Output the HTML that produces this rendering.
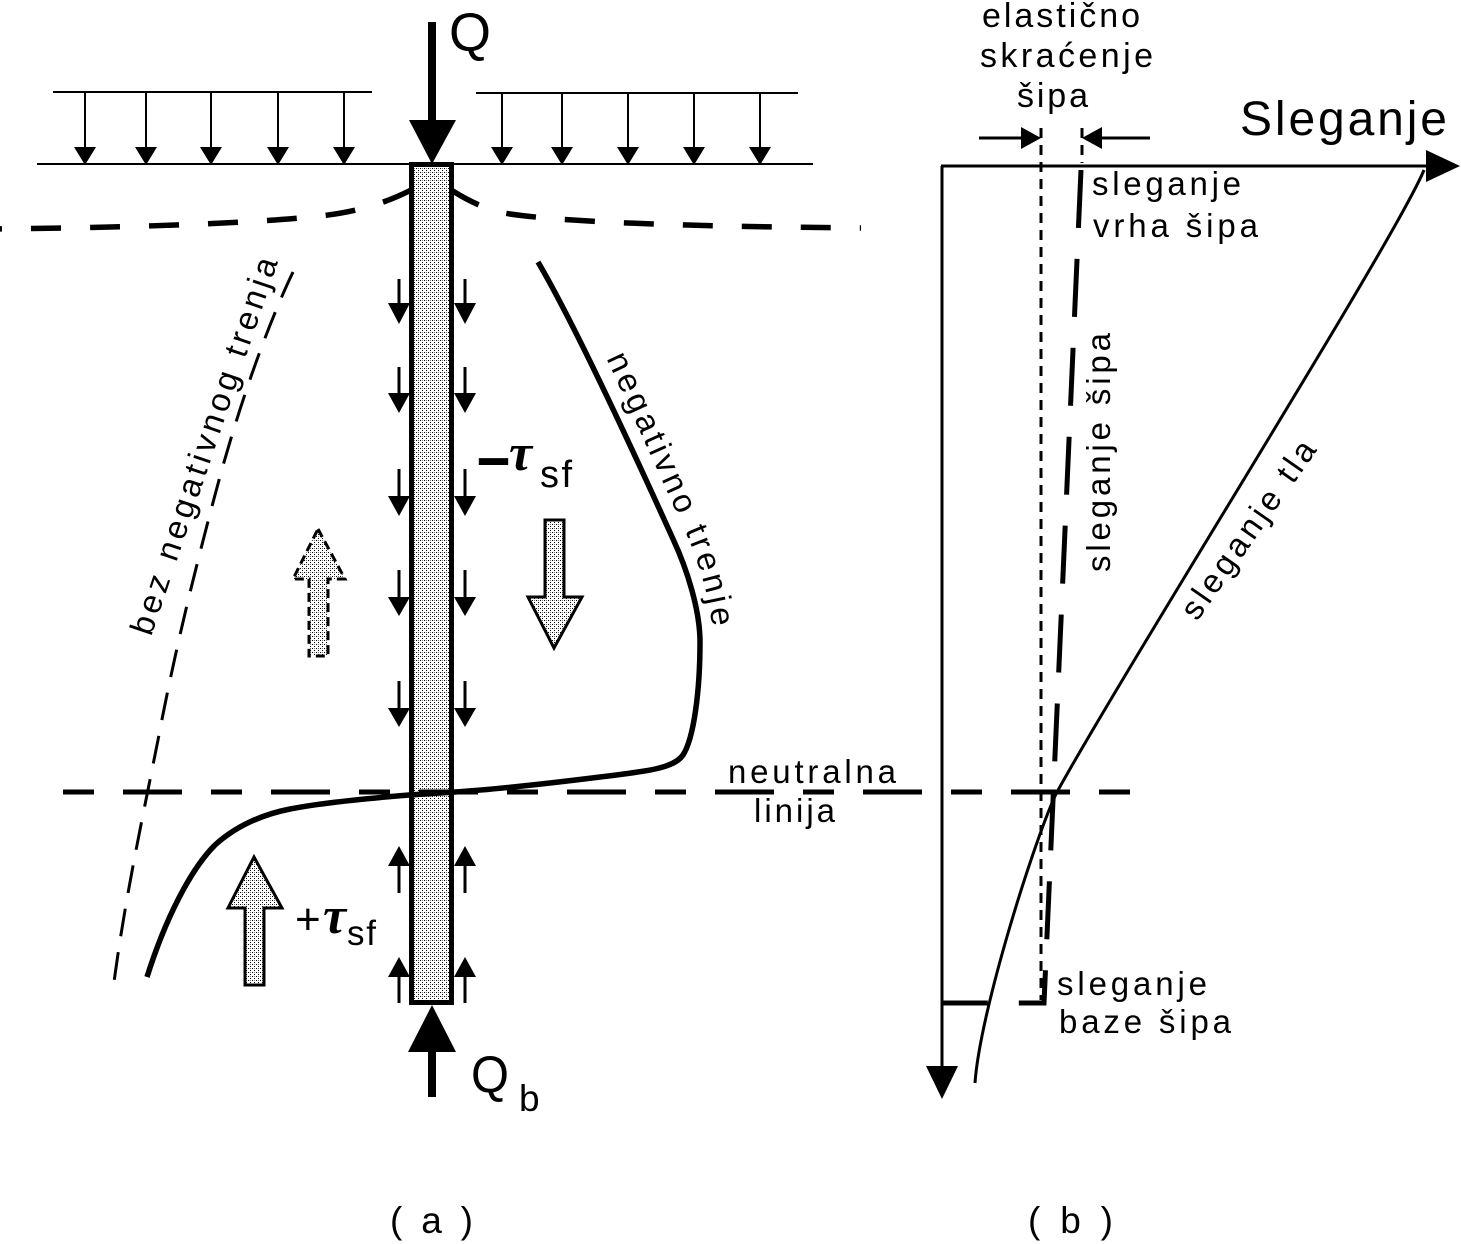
<!DOCTYPE html>
<html>
<head>
<meta charset="utf-8">
<style>
html,body{margin:0;padding:0;background:#fff;}
svg{display:block;}
</style>
</head>
<body>
<svg width="1461" height="1244" viewBox="0 0 1461 1244" xmlns="http://www.w3.org/2000/svg" font-family="'Liberation Sans', Arial, sans-serif">
<defs>
  <pattern id="st" width="4" height="4" patternUnits="userSpaceOnUse">
    <rect width="4" height="4" fill="#fff"/>
    <rect x="0" y="0" width="1" height="1" fill="#000"/>
    <rect x="2" y="2" width="1" height="1" fill="#000"/>
    <rect x="2" y="0" width="1" height="1" fill="#777"/>
  </pattern>
</defs>
<rect width="1461" height="1244" fill="#fff"/>

<!-- ===== PART (a) ===== -->
<g stroke="#000" stroke-width="2" fill="none">
  <line x1="53" y1="92" x2="372" y2="92"/>
  <line x1="37" y1="164" x2="411" y2="164"/>
  <line x1="476" y1="93" x2="798" y2="93"/>
  <line x1="452" y1="164" x2="813" y2="164"/>
  <path d="M85,92V150 M146,92V150 M211,92V150 M278,92V150 M344,92V150 M502,93V150 M562,93V150 M628,93V150 M694,93V150 M760,93V150"/>
</g>
<g fill="#000">
  <polygon points="74,147 96,147 85,165"/>
  <polygon points="135,147 157,147 146,165"/>
  <polygon points="200,147 222,147 211,165"/>
  <polygon points="267,147 289,147 278,165"/>
  <polygon points="333,147 355,147 344,165"/>
  <polygon points="491,147 513,147 502,165"/>
  <polygon points="551,147 573,147 562,165"/>
  <polygon points="617,147 639,147 628,165"/>
  <polygon points="683,147 705,147 694,165"/>
  <polygon points="749,147 771,147 760,165"/>
</g>

<!-- Q arrow -->
<line x1="432" y1="22" x2="432" y2="124" stroke="#000" stroke-width="8"/>
<polygon points="409,120 456,120 432,164" fill="#000"/>
<text x="449" y="51" font-size="54">Q</text>

<!-- surface settlement dashed curve -->
<path d="M-28,229 C100,228.5 250,224 320,216 C355,212 385,204 415,188" fill="none" stroke="#000" stroke-width="5.5" stroke-dasharray="30 29"/>
<path d="M448,188 C465,199 485,210 510,214 C560,221 650,226 861,228" fill="none" stroke="#000" stroke-width="5.5" stroke-dasharray="30 29" stroke-dashoffset="-5"/>

<!-- "bez negativnog trenja" thin dashed line -->
<path d="M293,272 C270,320 240,400 215,495 C195,570 175,650 158,740 C140,830 125,900 114,982" fill="none" stroke="#000" stroke-width="3" stroke-dasharray="28 16"/>

<!-- pile -->
<rect x="411.5" y="164.5" width="40" height="838" fill="url(#st)" stroke="#000" stroke-width="5"/>

<!-- neutral line -->
<line x1="63" y1="792" x2="1131" y2="792" stroke="#000" stroke-width="5" stroke-dasharray="31 29 59 29"/>

<!-- friction curve -->
<path d="M538,262 C575,325 635,455 673,539 C687,569 700,610 700,642 C700,690 694,738 683,755 C674,768 650,771 600,777 C560,782 500,789 455,792 L409,795 C360,799 320,803 290,809 C260,815 235,827 215,845 C190,870 165,920 147,977" fill="none" stroke="#000" stroke-width="5.5"/>

<!-- small shear arrows -->
<path d="M399,279V305 M465,279V305 M399,367V395 M465,367V395 M399,469V498 M465,469V498 M399,570V599 M465,570V599 M399,681V710 M465,681V710 M399,864V893 M465,864V893 M399,975V1003 M465,975V1003" stroke="#000" stroke-width="3" fill="none"/>
<g fill="#000">
  <polygon points="388,303 410,303 399,324"/><polygon points="454,303 476,303 465,324"/>
  <polygon points="388,393 410,393 399,413"/><polygon points="454,393 476,393 465,413"/>
  <polygon points="388,496 410,496 399,516"/><polygon points="454,496 476,496 465,516"/>
  <polygon points="388,597 410,597 399,616"/><polygon points="454,597 476,597 465,616"/>
  <polygon points="388,708 410,708 399,727"/><polygon points="454,708 476,708 465,727"/>
  <polygon points="399,846 388,866 410,866"/><polygon points="465,846 454,866 476,866"/>
  <polygon points="399,957 388,977 410,977"/><polygon points="465,957 454,977 476,977"/>
</g>

<!-- hollow arrows -->
<polygon points="545,520 564,520 564,597 582,597 554,648 528,597 545,597" fill="url(#st)" stroke="#000" stroke-width="3"/>
<polygon points="254,857 282,908 264,908 264,985 245,985 245,908 228,908" fill="url(#st)" stroke="#000" stroke-width="3"/>
<polygon points="318,529 345,579 328,579 328,656 309,656 309,579 293,579" fill="url(#st)" stroke="#000" stroke-width="3" stroke-dasharray="9 5"/>

<!-- Qb arrow -->
<polygon points="408,1052 456,1052 432,1005" fill="#000"/>
<line x1="432" y1="1050" x2="432" y2="1097" stroke="#000" stroke-width="8"/>
<text x="471" y="1092" font-size="52" textLength="38" lengthAdjust="spacingAndGlyphs">Q</text>
<text x="519" y="1111" font-size="37">b</text>

<!-- tau labels -->
<text x="477" y="480" font-size="70" font-weight="bold" textLength="33" lengthAdjust="spacingAndGlyphs">–</text>
<text x="509" y="470" font-family="'Liberation Serif', serif" font-style="italic" font-weight="bold" font-size="52">τ</text>
<text x="540" y="487" font-size="38" textLength="32">sf</text>

<text x="295" y="934" font-size="44">+</text>
<text x="323" y="933" font-family="'Liberation Serif', serif" font-style="italic" font-weight="bold" font-size="52">τ</text>
<text x="347" y="945" font-size="35" textLength="29">sf</text>

<!-- rotated labels -->
<text transform="translate(151,637) rotate(-71.3)" font-size="33" textLength="396">bez negativnog trenja</text>
<path id="negp" d="M565,275 C600,340 650,455 686,533 C700,566 713,605 715,660" fill="none"/>
<text font-size="33"><textPath href="#negp" startOffset="93" textLength="290">negativno trenje</textPath></text>

<text x="728" y="783" font-size="33" textLength="168">neutralna</text>
<text x="754" y="822" font-size="33" textLength="81">linija</text>

<text x="390" y="1233" font-size="37" textLength="83">( a )</text>

<!-- ===== PART (b) ===== -->
<line x1="942" y1="166" x2="942" y2="1068" stroke="#000" stroke-width="3"/>
<polygon points="926,1066 958,1066 942,1099" fill="#000"/>
<line x1="941" y1="166" x2="1430" y2="166" stroke="#000" stroke-width="3"/>
<polygon points="1426,150 1426,182 1460,166" fill="#000"/>

<line x1="1041" y1="128" x2="1041" y2="1000" stroke="#000" stroke-width="3" stroke-dasharray="10 7"/>
<line x1="1082" y1="128" x2="1082" y2="163" stroke="#000" stroke-width="3" stroke-dasharray="10 7"/>

<line x1="979" y1="138" x2="1024" y2="138" stroke="#000" stroke-width="3"/>
<polygon points="1021,127 1021,149 1041,138" fill="#000"/>
<line x1="1100" y1="138" x2="1150" y2="138" stroke="#000" stroke-width="3"/>
<polygon points="1102,127 1102,149 1082,138" fill="#000"/>

<path d="M1081,170 L1044,1003 L942,1003" fill="none" stroke="#000" stroke-width="5" stroke-dasharray="58 31"/>

<path d="M1424,170 C1395,240 1130,660 1057,792 C1037,832 980,1010 975,1083" fill="none" stroke="#000" stroke-width="3"/>

<text x="982" y="27" font-size="34" textLength="158">elastično</text>
<text x="980" y="67" font-size="34" textLength="173">skraćenje</text>
<text x="1017" y="107" font-size="34" textLength="71">šipa</text>
<text x="1240" y="135" font-size="48" textLength="207">Sleganje</text>
<text x="1092" y="195" font-size="33" textLength="149">sleganje</text>
<text x="1093" y="237" font-size="33" textLength="165">vrha šipa</text>
<text transform="translate(1110,572) rotate(-90)" font-size="33" textLength="239">sleganje šipa</text>
<text transform="translate(1197,622) rotate(-55)" font-size="33" textLength="210">sleganje tla</text>
<text x="1057" y="995" font-size="33" textLength="150">sleganje</text>
<text x="1059" y="1033" font-size="33" textLength="172">baze šipa</text>

<text x="1028" y="1233" font-size="37" textLength="85">( b )</text>
</svg>
</body>
</html>
